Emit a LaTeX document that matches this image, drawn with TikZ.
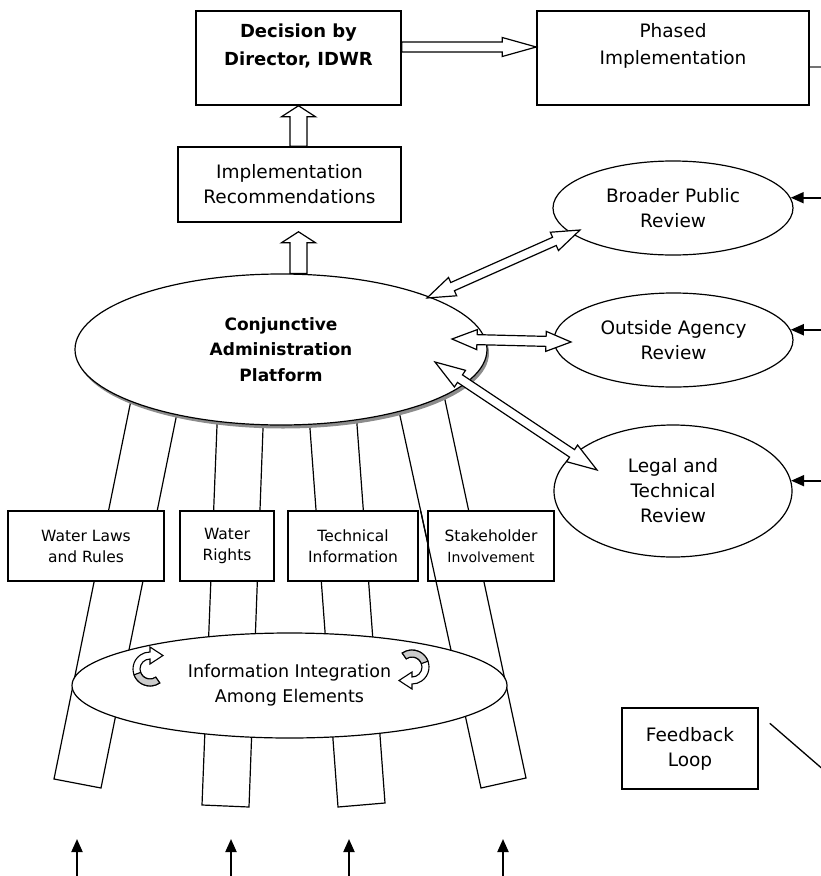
\documentclass[tikz,border=0pt]{standalone}
\usepackage{fontspec}
\setmainfont{DejaVu Sans}
\usetikzlibrary{shapes.geometric,calc,positioning,arrows.meta,shadows}
\definecolor{shadowgrey}{rgb}{0.55,0.55,0.55}
\definecolor{linkgrey}{rgb}{0.45,0.45,0.45}
\definecolor{swirlgrey}{rgb}{0.80,0.80,0.80}

% angle and length from #1 to #2
\newcommand{\arrowframe}[2]{%
    \path let \p1=($(#2)-(#1)$) in \pgfextra{%
        \pgfmathsetmacro\tmpang{atan2(\y1,\x1)}\global\let\arrowang\tmpang
        \pgfmathsetmacro\tmplen{veclen(\x1,\y1)}\global\let\arrowlen\tmplen};}
% hollow block arrows: from, to, shaft half width, head half width, head length
\newcommand{\onewayarrow}[5]{%
    \arrowframe{#1}{#2}%
    \draw[hollow,shift={(#1)},rotate=\arrowang] (0,#3) -- (\arrowlen-#5,#3)
        -- (\arrowlen-#5,#4) -- (\arrowlen,0) -- (\arrowlen-#5,-#4)
        -- (\arrowlen-#5,-#3) -- (0,-#3) -- cycle;}
\newcommand{\twowayarrow}[5]{%
    \arrowframe{#1}{#2}%
    \draw[hollow,shift={(#1)},rotate=\arrowang] (0,0) -- (#5,#4) -- (#5,#3)
        -- (\arrowlen-#5,#3) -- (\arrowlen-#5,#4) -- (\arrowlen,0)
        -- (\arrowlen-#5,-#4) -- (\arrowlen-#5,-#3) -- (#5,-#3) -- (#5,-#4) -- cycle;}

\tikzset{
    swirl/.pic={
        \draw[line width=1.1pt,fill=white] (55:17) arc[start angle=55,end angle=270,radius=17]
            -- (0,-22) -- (13,-13.5) -- (0,-5) -- (0,-10)
            arc[start angle=270,end angle=55,radius=10] -- cycle;
        \draw[line width=1.1pt,fill=swirlgrey] (55:17) arc[start angle=55,end angle=160,radius=17]
            -- (160:10) arc[start angle=160,end angle=55,radius=10] -- cycle;
    }
}

\begin{document}
\begin{tikzpicture}[x=1pt,y=-1pt,
    box/.style={draw,line width=1.5pt,fill=white,align=center,inner sep=0pt},
    oval/.style={draw,ellipse,line width=1.2pt,fill=white,align=center,inner sep=0pt},
    hollow/.style={draw,line width=1.2pt,fill=white},
    plank/.style={draw,line width=1.2pt},
    feed/.style={line width=2pt,-{Triangle[width=11pt,length=13pt]}},
    bigtext/.style={font=\fontsize{18.5}{25}\selectfont},
    smalltext/.style={font=\fontsize{15.5}{21}\selectfont}]

    \useasboundingbox (0,0) rectangle (821,876);

    % Legs first, platform and boxes go over them.
    \foreach \n/\ta/\tb/\bb/\ba in {1/{135.1,380}/{183.7,380}/{101,788}/{54,779},
        2/{218.8,380}/{264.8,380}/{249,807}/{202,805},
        3/{306.4,380}/{353.7,380}/{385,803}/{338,807},
        4/{392.2,380}/{440.7,380}/{526,778}/{481,788}}{
        \coordinate (leg\n a) at (\ta);
        \coordinate (leg\n d) at (\ba);
        \draw[plank] (\ta) -- (\tb) -- (\bb) -- (\ba) -- cycle;
    }

    % Platform with its shadow
    \node[oval,minimum width=412pt,minimum height=151pt,
        font=\bfseries\fontsize{17}{25.5}\selectfont,
        drop shadow={shadow xshift=2pt,shadow yshift=-3.5pt,fill=shadowgrey,opacity=1}]
        (platform) at (281,349.5) {Conjunctive\\Administration\\Platform};

    % Top row
    \node[box,minimum width=205pt,minimum height=94pt] (decision) at (298.5,58) {};
    \node[font=\bfseries\fontsize{18}{28}\selectfont,align=center,inner sep=0pt,
        below=13pt of decision.north] (decisiontext) {Decision by\\Director, IDWR};
    \node[box,minimum width=272pt,minimum height=94pt] (phased) at (673,58) {};
    \node[font=\fontsize{18.5}{27}\selectfont,align=center,inner sep=0pt,
        below=13pt of phased.north] (phasedtext) {Phased\\Implementation};
    \node[box,bigtext,minimum width=223pt,minimum height=75pt] (recs) at (289.5,184.5)
        {Implementation\\Recommendations};

    % Reviews
    \node[oval,bigtext,minimum width=240pt,minimum height=94pt] (public) at (673,208)
        {Broader Public\\Review};
    \node[oval,bigtext,minimum width=239pt,minimum height=94pt] (agency) at (673.5,340)
        {Outside Agency\\Review};
    \node[oval,bigtext,minimum width=238pt,minimum height=132pt] (legal) at (673,491)
        {Legal and\\Technical\\Review};

    % Elements
    \node[box,smalltext,minimum width=156pt,minimum height=70pt] (laws) at (86,546)
        {Water Laws\\and Rules};
    \node[box,smalltext,minimum width=94pt,minimum height=70pt] (rights) at (227,546)
        {Water\\Rights};
    \node[box,smalltext,minimum width=130pt,minimum height=70pt] (techinfo) at (353,546)
        {Technical\\Information};
    \node[box,smalltext,minimum width=126pt,minimum height=70pt] (stake) at (491,546)
        {Stakeholder\\{\fontsize{14}{21}\selectfont Involvement}};
    % this leg runs over the corner of its box
    \draw[plank] ($(leg4a)!0.321!(leg4d)$) -- ($(leg4a)!0.4926!(leg4d)$);

    \node[oval,font=\fontsize{17.5}{25}\selectfont,minimum width=435pt,minimum height=105pt]
        (integration) at (289.5,685.5) {Information Integration\\Among Elements};
    \pic at (150,669) {swirl};
    \pic[rotate=180] at (412,667) {swirl};

    \node[box,bigtext,minimum width=136pt,minimum height=81pt] (feedback) at (690,748.5)
        {Feedback\\Loop};
    \coordinate (loopa) at ($(feedback.north east)+(11,16)$);
    \coordinate (loopb) at ($(loopa)+(104,90)$);
    \draw[line width=1.3pt] (loopa) -- (loopb);

    % Block arrows
    \coordinate (up1a) at (recs.north -| decision.south);
    \onewayarrow{up1a}{decision.south}{8.5}{17}{11}
    \coordinate (up2a) at (platform.north -| decision.south);
    \coordinate (up2b) at ($(recs.south -| decision.south)+(0,9)$);
    \onewayarrow{up2a}{up2b}{8.5}{17}{11}
    \coordinate (dpa) at ($(decision.east)+(0,-11)$);
    \coordinate (dpb) at ($(phased.west)+(0,-11)$);
    \onewayarrow{dpa}{dpb}{5}{9.5}{34}

    \coordinate (puba) at (427,298);
    \coordinate (pubb) at (580,230);
    \twowayarrow{puba}{pubb}{4.5}{10}{28}
    \coordinate (aga) at (452,339);
    \coordinate (agb) at (571,342);
    \twowayarrow{aga}{agb}{5}{10}{25}
    \coordinate (lega) at (435,362);
    \coordinate (legb) at (597,470);
    \twowayarrow{lega}{legb}{4.5}{10}{30}

    % Right edge
    \coordinate (rim) at (840,0);
    \draw[feed] (rim |- public.5) -- (public.5);
    \draw[feed] (rim |- agency.5) -- (agency.5);
    \draw[feed] (rim |- legal.5) -- (legal.5);
    \coordinate (phasedout) at ([yshift=-9pt]phased.east);
    \draw[line width=1.3pt,linkgrey] (phasedout) -- (rim |- phasedout);

    % Inputs from below
    \foreach \n/\x in {1/77,2/231,3/349,4/503}{
        \coordinate (src\n) at (\x,880);
        \coordinate (dst\n) at (\x,839);
        \draw[feed] (src\n) -- (dst\n);
    }

\end{tikzpicture}
\end{document}
